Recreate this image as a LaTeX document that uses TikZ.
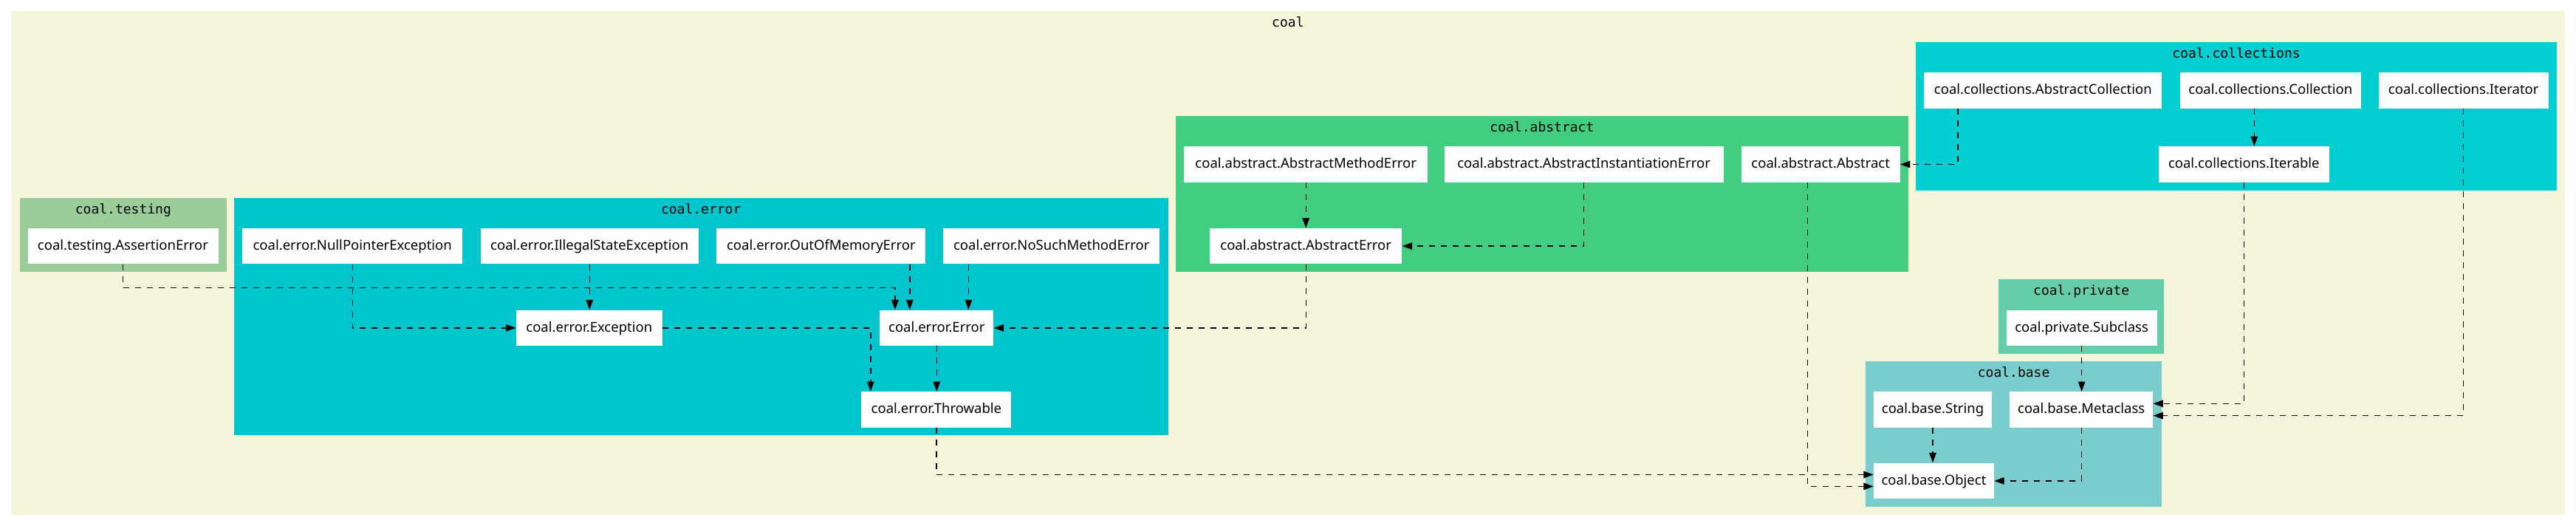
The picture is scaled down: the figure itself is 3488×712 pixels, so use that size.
\documentclass[tikz,border=0pt]{standalone}
\usepackage{fontspec}
\setmainfont{Noto Sans}
\newfontfamily\monofnt{DejaVu Sans Mono}
\usetikzlibrary{arrows.meta}
\definecolor{cbeige}{HTML}{F5F5DC}
\definecolor{ctesting}{HTML}{9BCD9B}
\definecolor{cerror}{HTML}{00C5CD}
\definecolor{cabstract}{HTML}{43CD80}
\definecolor{ccoll}{HTML}{00CED1}
\definecolor{cprivate}{HTML}{66CDAA}
\definecolor{cbase}{HTML}{79CDCD}
\tikzset{
  cls/.style={fill=white, inner sep=0pt, minimum height=48.6pt, text height=13.3pt, text depth=2.5pt, font=\fontsize{18.5}{20}\selectfont},
  ttl/.style={anchor=base, inner sep=0pt, font=\monofnt\fontsize{18}{20}\selectfont},
  edge/.style={draw=black, line width=1.4pt, dash pattern=on 8pt off 8pt, -{Triangle[length=13.5pt,width=9.5pt]}},
}
\begin{document}
\begin{tikzpicture}[x=1pt,y=-1pt]
\useasboundingbox (0,0) rectangle (3488,712);
\fill[white] (0,0) rectangle (3488,712);
% clusters
\fill[cbeige] (15,15) rectangle (3472.7,696.7);
\node[ttl] (tcoal) at (1743.9,36.5) {coal};
\fill[ctesting] (26.8,267.5) rectangle (306.9,368.3);
\node[ttl] (ttesting) at (166.9,289) {coal.testing};
\fill[cerror] (316.8,267.5) rectangle (1581.7,589.4);
\node[ttl] (terror) at (949.2,289) {coal.error};
\fill[cabstract] (1591.6,156.7) rectangle (2584.1,368.3);
\node[ttl] (tabstract) at (2087.9,178.2) {coal.abstract};
\fill[ccoll] (2594,56.8) rectangle (3462,257.5);
\node[ttl] (tcoll) at (3028,78.3) {coal.collections};
\fill[cprivate] (2706.1,377.8) rectangle (2930.3,478.6);
\node[ttl] (tprivate) at (2818.2,399.3) {coal.private};
\fill[cbase] (2525.8,489) rectangle (2927.3,685.7);
\node[ttl] (tbase) at (2726.6,510.5) {coal.base};
% nodes
\node[cls, minimum width=258pt] (ae) at (166.5,333.1) {coal.testing.AssertionError};
\node[cls, minimum width=297.7pt] (npe) at (477.2,333.1) {coal.error.NullPointerException};
\node[cls, minimum width=295.4pt] (ise) at (798.2,333.1) {coal.error.IllegalStateException};
\node[cls, minimum width=283pt] (oom) at (1111.9,333.1) {coal.error.OutOfMemoryError};
\node[cls, minimum width=292.7pt] (nsm) at (1423.8,333.1) {coal.error.NoSuchMethodError};
\node[cls, minimum width=198.2pt] (exc) at (797.8,443.9) {coal.error.Exception};
\node[cls, minimum width=154.2pt] (err) at (1268.3,443.9) {coal.error.Error};
\node[cls, minimum width=203.1pt] (thr) at (1267.9,554.5) {coal.error.Throwable};
\node[cls, minimum width=330pt] (amerr) at (1768.2,222.5) {coal.abstract.AbstractMethodError};
\node[cls, minimum width=378pt] (aie) at (2144.6,222.5) {coal.abstract.AbstractInstantiationError};
\node[cls, minimum width=215.1pt] (abs) at (2465.2,222.5) {coal.abstract.Abstract};
\node[cls, minimum width=260.4pt] (aerr) at (1768.2,333.1) {coal.abstract.AbstractError};
\node[cls, minimum width=322pt] (ac) at (2766.3,122.4) {coal.collections.AbstractCollection};
\node[cls, minimum width=245.4pt] (coll) at (3074.3,122.4) {coal.collections.Collection};
\node[cls, minimum width=230.3pt] (itr) at (3335.7,122.4) {coal.collections.Iterator};
\node[cls, minimum width=231pt] (itb) at (3038.3,222.5) {coal.collections.Iterable};
\node[cls, minimum width=203.8pt] (sub) at (2818.6,443.9) {coal.private.Subclass};
\node[cls, minimum width=160pt] (str) at (2617,554.5) {coal.base.String};
\node[cls, minimum width=194pt] (meta) at (2818.2,554.5) {coal.base.Metaclass};
\node[cls, minimum width=163pt] (obj) at (2618.5,650.9) {coal.base.Object};
% bend coordinates
\coordinate (b1) at (1211.9,389.2);
\coordinate (b4) at (1178.8,443.9);
\coordinate (b5) at (1231.8,0);
\coordinate (b6) at (1311.4,0);
\coordinate (b12) at (2447.7,0);
\coordinate (b13) at (2650.8,0);
\coordinate (b14) at (3052.3,0);
% edges
\draw[edge] (ae.south) |- (b1) -- (b1 |- err.north);
\draw[edge] (npe.south) |- (exc.west);
\draw[edge] (ise.south) -- (ise.south |- exc.north);
\draw[edge] (exc.east) -- (b4) -- (b4 |- thr.north);
\draw[edge] (b5 |- oom.south) -- (b5 |- err.north);
\draw[edge] (b6 |- nsm.south) -- (b6 |- err.north);
\draw[edge] (err.south) -- (err.south |- thr.north);
\draw[edge] (aerr.south) |- (err.east);
\draw[edge] (amerr.south) -- (aerr.north);
\draw[edge] (aie.south) |- (aerr.east);
\draw[edge] (thr.south) |- ([yshift=8.4pt]obj.west);
\draw[edge] (b12 |- abs.south) |- ([yshift=-7.5pt]obj.west);
\draw[edge] (b13 |- ac.south) |- (abs.east);
\draw[edge] (b14 |- coll.south) -- (b14 |- itb.north);
\draw[edge] (itb.south) |- ([yshift=8.2pt]meta.east);
\draw[edge] (itr.south) |- ([yshift=-8.1pt]meta.east);
\draw[edge] (sub.south) -- (sub.south |- meta.north);
\draw[edge] (str.south) -- (str.south |- obj.north);
\draw[edge] (meta.south) |- (obj.east);
\end{tikzpicture}
\end{document}
